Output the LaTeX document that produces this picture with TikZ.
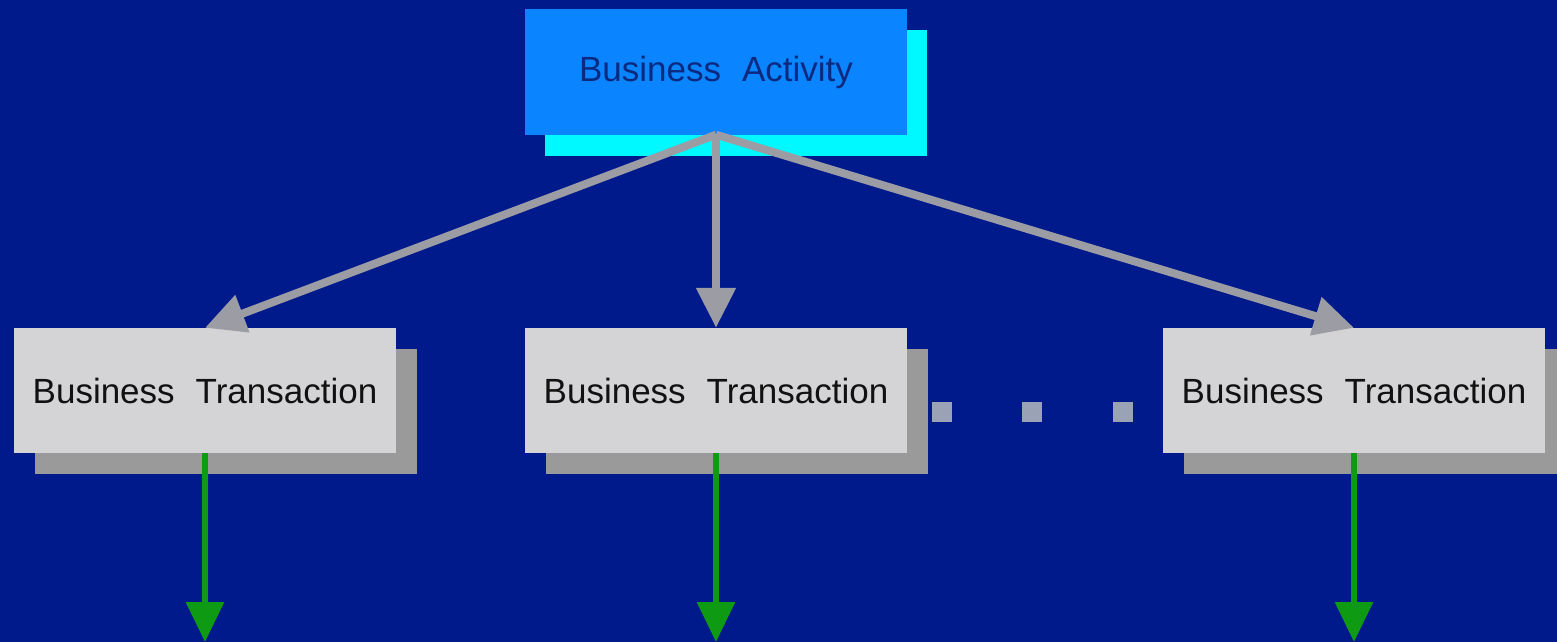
\documentclass[tikz,border=0pt]{standalone}
\usepackage{fontspec}
\setmainfont{Liberation Sans}
\usetikzlibrary{arrows.meta,shadows}
\definecolor{bg}{HTML}{001A8C}
\definecolor{topfill}{HTML}{0A84FF}
\definecolor{topshadow}{HTML}{00F8FF}
\definecolor{toptext}{HTML}{0A2A80}
\definecolor{boxfill}{HTML}{D4D4D6}
\definecolor{boxshadow}{HTML}{9A9A9A}
\definecolor{boxtext}{HTML}{111111}
\definecolor{linkgray}{HTML}{9C9CA4}
\definecolor{flowgreen}{HTML}{0E9A12}
\definecolor{dotgray}{HTML}{9AA2B6}
\tikzset{
  basebox/.style={minimum width=382pt, minimum height=125pt, inner sep=0pt,
    font=\fontsize{35}{42}\selectfont},
  topbox/.style={basebox, fill=topfill, text=toptext,
    drop shadow={shadow xshift=20pt, shadow yshift=-21pt, opacity=1, fill=topshadow}},
  transbox/.style={basebox, fill=boxfill, text=boxtext,
    drop shadow={shadow xshift=21pt, shadow yshift=-21pt, opacity=1, fill=boxshadow}},
  grayarrow/.style={draw=linkgray, line width=8pt,
    -{Triangle[length=40pt, width=38pt, fill=linkgray]}},
  greenarrow/.style={draw=flowgreen, line width=6pt,
    -{Triangle[length=40pt, width=37pt, fill=flowgreen]}},
  dotbox/.style={fill=dotgray, minimum size=20pt, inner sep=0pt}
}
\begin{document}
\begin{tikzpicture}[x=1pt, y=-1pt]
\fill[bg] (0,0) rectangle (1557,642);
\useasboundingbox (0,0) rectangle (1557,642);

\node[topbox] (act) at (716,72) {\raisebox{-5pt}{Business\hspace{0.6em}Activity}};

\node[transbox] (t1) at (205,390.5) {Business\hspace{0.6em}Transaction};
\node[transbox] (t2) at (716,390.5) {Business\hspace{0.6em}Transaction};
\node[transbox] (t3) at (1354,390.5) {Business\hspace{0.6em}Transaction};

\node[dotbox] (d1) at (942,412) {};
\node[dotbox] (d2) at (1032,412) {};
\node[dotbox] (d3) at (1123,412) {};

\draw[grayarrow] (act.south) -- (t1.north);
\draw[grayarrow] (act.south) -- (t2.north);
\draw[grayarrow] (act.south) -- (t3.north);

\coordinate (e1) at (205,642);
\coordinate (e2) at (716,642);
\coordinate (e3) at (1354,642);
\draw[greenarrow] (t1.south) -- (e1);
\draw[greenarrow] (t2.south) -- (e2);
\draw[greenarrow] (t3.south) -- (e3);
\end{tikzpicture}
\end{document}
